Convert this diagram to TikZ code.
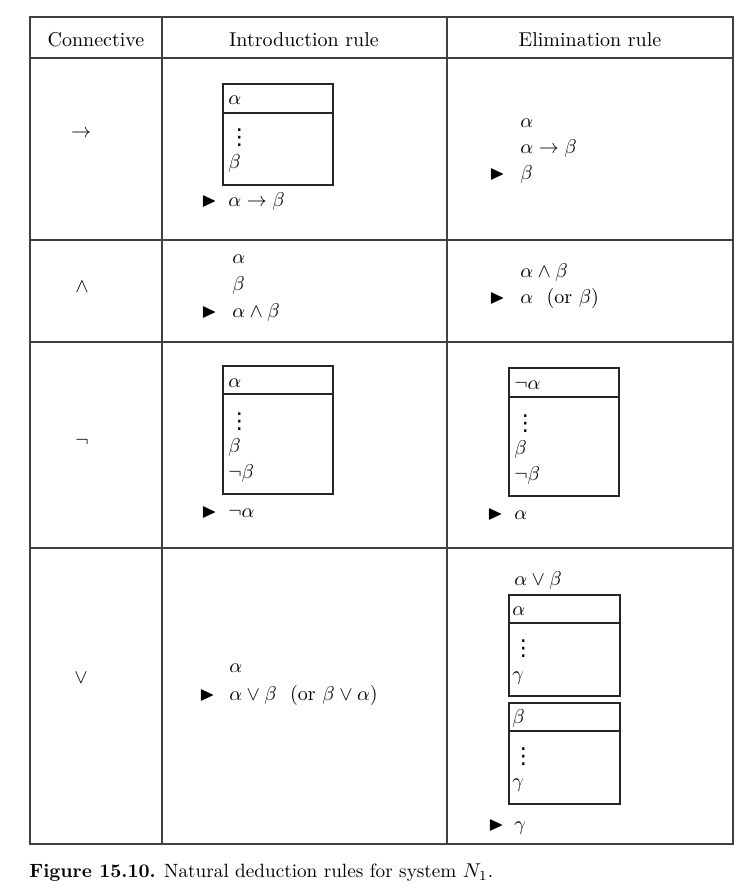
\documentclass[tikz,border=0pt]{standalone}
\usepackage{amsmath, amssymb}
\usepackage{fontspec}
\usepackage{tikz}

% font for the vertical dots
\newfontfamily\dotsfont{DejaVu Sans}
\newcommand{\subdots}{{\dotsfont\fontsize{11}{11}\selectfont ⋮}}

\begin{document}
\begin{tikzpicture}[x=0.5pt, y=-0.5pt,
    grid/.style={draw=black!75, line width=0.6pt},
    subproof/.style={draw=black!85, line width=0.6pt},
    txt/.style={anchor=base west, inner sep=0pt},
    head/.style={anchor=base, inner sep=0pt},
    conn/.style={anchor=center, inner sep=0pt}]
  \useasboundingbox (0,0) rectangle (746,890);

  % table frame
  \draw[grid] (30,17) rectangle (733,844);
  \draw[grid] (162,17) -- (162,844);
  \draw[grid] (447,17) -- (447,844);
  \draw[grid] (30,58) -- (733,58);
  \draw[grid] (30,240) -- (733,240);
  \draw[grid] (30,342) -- (733,342);
  \draw[grid] (30,548) -- (733,548);

  \node[head] (h_conn) at (96,46) {Connective};
  \node[head] (h_intro) at (304,46) {Introduction rule};
  \node[head] (h_elim) at (590,46) {Elimination rule};

  \node[conn] (c_imp) at (81,134) {$\rightarrow$};
  \node[conn] (c_and) at (82,287) {$\wedge$};
  \node[conn] (c_not) at (82,442) {$\neg$};
  \node[conn] (c_or) at (81,678) {$\vee$};

  % -> intro
  \draw[subproof] (223,84) rectangle (333,185);
  \draw[subproof] (223,113) -- (333,113);
  \node[txt] (imp_i_hyp) at (228,104) {$\alpha$};
  \node[txt] (imp_i_dots) at (228,144) {\subdots};
  \node[txt] (imp_i_end) at (228,168) {$\beta$};
  \node[txt] (imp_i_tri) at (201,206) {$\blacktriangleright$};
  \node[txt] (imp_i_res) at (228,206) {$\alpha \rightarrow \beta$};

  % -> elim
  \node[txt] (imp_e_one) at (520,127) {$\alpha$};
  \node[txt] (imp_e_two) at (520,153) {$\alpha \rightarrow \beta$};
  \node[txt] (imp_e_tri) at (489,179) {$\blacktriangleright$};
  \node[txt] (imp_e_res) at (520,179) {$\beta$};

  % and intro
  \node[txt] (and_i_one) at (232,263) {$\alpha$};
  \node[txt] (and_i_two) at (232,290) {$\beta$};
  \node[txt] (and_i_tri) at (201,317) {$\blacktriangleright$};
  \node[txt] (and_i_res) at (232,317) {$\alpha \wedge \beta$};

  % and elim
  \node[txt] (and_e_one) at (520,277) {$\alpha \wedge \beta$};
  \node[txt] (and_e_tri) at (489,303) {$\blacktriangleright$};
  \node[txt] (and_e_res) at (520,303) {$\alpha$\ \ (or $\beta$)};

  % not intro
  \draw[subproof] (223,366) rectangle (333,494);
  \draw[subproof] (223,394) -- (333,394);
  \node[txt] (not_i_hyp) at (228,387) {$\alpha$};
  \node[txt] (not_i_dots) at (228,428) {\subdots};
  \node[txt] (not_i_b) at (228,452) {$\beta$};
  \node[txt] (not_i_nb) at (228,478) {$\neg\beta$};
  \node[txt] (not_i_tri) at (201,517) {$\blacktriangleright$};
  \node[txt] (not_i_res) at (228,517) {$\neg\alpha$};

  % not elim
  \draw[subproof] (509,368) rectangle (619,496);
  \draw[subproof] (509,397) -- (619,397);
  \node[txt] (not_e_hyp) at (514,389) {$\neg\alpha$};
  \node[txt] (not_e_dots) at (514,430) {\subdots};
  \node[txt] (not_e_b) at (514,454) {$\beta$};
  \node[txt] (not_e_nb) at (514,480) {$\neg\beta$};
  \node[txt] (not_e_tri) at (487,519) {$\blacktriangleright$};
  \node[txt] (not_e_res) at (514,519) {$\alpha$};

  % or intro
  \node[txt] (or_i_one) at (229,672) {$\alpha$};
  \node[txt] (or_i_tri) at (199,700) {$\blacktriangleright$};
  \node[txt] (or_i_res) at (229,700) {$\alpha \vee \beta$\ \ (or $\beta \vee \alpha$)};

  % or elim
  \node[txt] (or_e_one) at (514,585) {$\alpha \vee \beta$};
  \draw[subproof] (509,595) rectangle (620,696);
  \draw[subproof] (509,623) -- (620,623);
  \node[txt] (or_e_hyp_a) at (512,615) {$\alpha$};
  \node[txt] (or_e_dots_a) at (512,655) {\subdots};
  \node[txt] (or_e_end_a) at (512,680) {$\gamma$};
  \draw[subproof] (509,703) rectangle (620,804);
  \draw[subproof] (509,731) -- (620,731);
  \node[txt] (or_e_hyp_b) at (512,723) {$\beta$};
  \node[txt] (or_e_dots_b) at (512,763) {\subdots};
  \node[txt] (or_e_end_b) at (512,787) {$\gamma$};
  \node[txt] (or_e_tri) at (488,830) {$\blacktriangleright$};
  \node[txt] (or_e_res) at (514,830) {$\gamma$};

  \node[txt] (caption) at (29,877) {\fontsize{9.6}{11}\selectfont\textbf{Figure 15.10.} Natural deduction rules for system $N_1$.};
\end{tikzpicture}
\end{document}
